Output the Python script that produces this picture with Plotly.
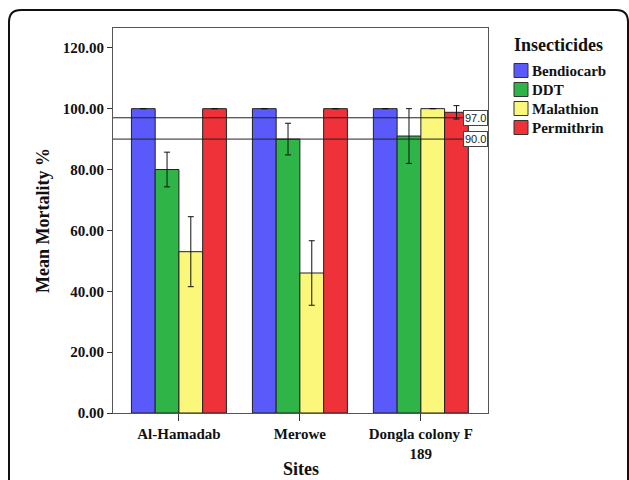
import plotly.graph_objects as go

sites = ["Al-Hamadab", "Merowe", "Dongla colony F<br>189"]
insecticides = ["Bendiocarb", "DDT", "Malathion", "Permithrin"]
colors = ["#5A5AFA", "#2FB547", "#FAF77A", "#EF3139"]
values = {
    "Bendiocarb": [100.0, 100.0, 100.0],
    "DDT": [80.0, 90.0, 91.0],
    "Malathion": [53.0, 46.0, 100.0],
    "Permithrin": [100.0, 100.0, 98.8],
}
errors = {
    "Bendiocarb": [0.0, 0.0, 0.0],
    "DDT": [5.7, 5.2, 9.0],
    "Malathion": [11.5, 10.6, 0.0],
    "Permithrin": [0.0, 0.0, 2.2],
}
ref_lines = [97.0, 90.0]
y_ticks = [0, 20, 40, 60, 80, 100, 120]

SERIF = "Liberation Serif, Times New Roman, serif"

fig = go.Figure()
for name, col in zip(insecticides, colors):
    fig.add_trace(go.Bar(
        x=sites, y=values[name], name=name,
        marker=dict(color=col, line=dict(color="#222", width=1)),
        error_y=dict(type="data", array=errors[name], visible=True,
                     color="#111", thickness=1, width=3),
        showlegend=False,
    ))

L, R, T, B = 113, 488, 28, 413
W, H = 629, 480
pw, ph = R - L, B - T

def px(x):
    return (x - L) / pw

def py(y):
    return (B - y) / ph

shapes = []
for v in ref_lines:
    shapes.append(dict(type="line", xref="paper", x0=0, x1=1, yref="y", y0=v, y1=v,
                       line=dict(color="#222", width=1)))

# outer rounded frame (pixel offsets anchored at plot origin)
fl, ft, fr, fb = 9 - L, B - 10, 628 - L, B - 500
r = 12
path = (f"M {fl},{fb} L {fl},{ft - r} Q {fl},{ft} {fl + r},{ft} "
        f"L {fr - r},{ft} Q {fr},{ft} {fr},{ft - r} L {fr},{fb}")
shapes.append(dict(type="path", xref="paper", yref="paper", xsizemode="pixel", ysizemode="pixel",
                   xanchor=0, yanchor=0, path=path, line=dict(color="#111", width=2)))

annotations = []
for v in ref_lines:
    annotations.append(dict(x=1, xref="paper", xanchor="right", y=v, yref="y", yanchor="middle",
                            text=f"{v:.1f}", showarrow=False, bgcolor="white",
                            bordercolor="#444", borderwidth=1, borderpad=1,
                            font=dict(family="Liberation Sans, Arial, sans-serif", size=11, color="#222")))

# legend
annotations.append(dict(x=px(512), y=py(45), xref="paper", yref="paper", xanchor="left", yanchor="middle",
                        text="<b>Insecticides</b>", showarrow=False,
                        font=dict(family=SERIF, size=18, color="#111")))
for i, (name, col) in enumerate(zip(insecticides, colors)):
    cy = 70.5 + i * 19
    shapes.append(dict(type="rect", xref="paper", yref="paper",
                       x0=px(514), x1=px(528), y0=py(cy - 7), y1=py(cy + 7),
                       fillcolor=col, line=dict(color="#333", width=1)))
    annotations.append(dict(x=px(530), y=py(cy), xref="paper", yref="paper", xanchor="left",
                            yanchor="middle", text=f"<b>{name}</b>", showarrow=False,
                            font=dict(family=SERIF, size=15, color="#111")))

annotations.append(dict(x=px(43), y=py(221), xref="paper", yref="paper", textangle=-90,
                        xanchor="center", yanchor="middle",
                        text="<b>Mean Mortality %</b>", showarrow=False,
                        font=dict(family=SERIF, size=18, color="#111")))
annotations.append(dict(x=px(301), y=py(469), xref="paper", yref="paper",
                        xanchor="center", yanchor="middle",
                        text="<b>Sites</b>", showarrow=False,
                        font=dict(family=SERIF, size=18, color="#111")))

fig.update_layout(
    width=W, height=H,
    margin=dict(l=L, r=W - R, t=T, b=H - B),
    paper_bgcolor="white", plot_bgcolor="white",
    barmode="group", bargap=0.215, bargroupgap=0,
    shapes=shapes, annotations=annotations,
    showlegend=False,
)
tf = dict(family=SERIF, size=15, color="#111", weight="bold")
fig.update_xaxes(range=[-0.545, 2.555], showgrid=False, showline=True, mirror=True,
                 linecolor="#555", linewidth=1, ticks="outside", ticklen=7, tickcolor="#333",
                 tickfont=tf)
fig.update_yaxes(range=[0, 126.5], tickvals=y_ticks, tickformat=".2f", showgrid=False,
                 zeroline=False, showline=True, mirror=True, linecolor="#555", linewidth=1,
                 ticks="outside", ticklen=5, tickcolor="#333",
                 tickfont=tf)

fig.write_html("out.html", config={"displayModeBar": False},
               post_script="document.body.style.margin='0px';")
